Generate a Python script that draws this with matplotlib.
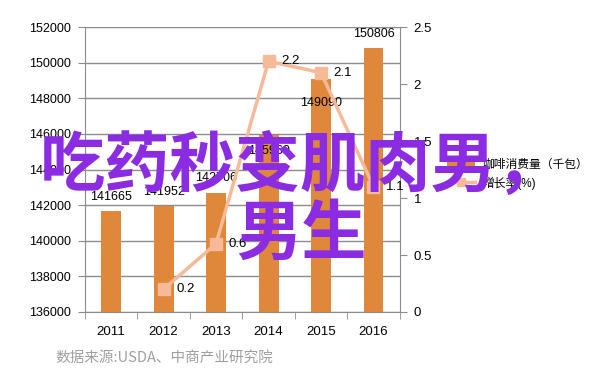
import numpy as np
import matplotlib
matplotlib.use('Agg')
import matplotlib.pyplot as plt
from matplotlib.lines import Line2D
from matplotlib.patches import Patch

plt.rcParams['font.family'] = ['Liberation Sans', 'Noto Sans CJK SC', 'DejaVu Sans']

# data
years = ['2011', '2012', '2013', '2014', '2015', '2016']
consumption = [141665, 141952, 142706, 145960, 149090, 150806]
cons_labels = ['141665', '141952', '142706', '145960', '149090', '150806']
growth_years = ['2012', '2013', '2014', '2015', '2016']
growth = [0.2, 0.6, 2.2, 2.1, 1.1]

bar_color = '#DF873B'
line_color = '#F6BA98'
grid_color = '#8C8C8C'

fig = plt.figure(figsize=(6.02, 3.84), dpi=100)
ax = fig.add_axes([0.141, 0.1875, 0.523, 0.742])

x = np.arange(len(years))
ax.bar(x, consumption, width=0.38, color=bar_color, zorder=2)
ax.set_ylim(136000, 152000)
ax.set_yticks(np.arange(136000, 152001, 2000))
ax.set_xlim(-0.5, len(years) - 0.5)
ax.set_xticks(x)
ax.set_xticklabels(years)
ax.set_xticks(np.arange(-0.5, len(years), 1), minor=True)
ax.tick_params(axis='x', which='major', length=0, pad=10, labelsize=9.5)
ax.tick_params(axis='x', which='minor', length=5, color=grid_color, direction='out')
ax.tick_params(axis='y', length=5, color=grid_color, pad=5, labelsize=9)
ax.grid(axis='y', color=grid_color, linewidth=1, zorder=0)
ax.set_axisbelow(True)
for s in ['top', 'right']:
    ax.spines[s].set_visible(False)
for s in ['left', 'bottom']:
    ax.spines[s].set_color(grid_color)

# bar value labels (2014/2015 sit inside the bar like the original)
offsets = [6, 6, 6, -16, -22, 6]
for i, v in enumerate(consumption):
    ax.annotate(cons_labels[i], (x[i], v), xytext=(0, offsets[i]),
                textcoords='offset points', ha='center', va='bottom', fontsize=9)

ax2 = ax.twinx()
gx = [years.index(y) for y in growth_years]
ax2.plot(gx, growth, color=line_color, linewidth=2.5, marker='s', markersize=8,
         zorder=3)
ax2.set_ylim(0, 2.5)
ax2.set_yticks(np.arange(0, 2.51, 0.5))
ax2.set_yticklabels(['0', '0.5', '1', '1.5', '2', '2.5'])
ax2.tick_params(axis='y', length=5, color=grid_color, pad=5, labelsize=9.5)
for s in ['top', 'left', 'bottom']:
    ax2.spines[s].set_visible(False)
ax2.spines['right'].set_color(grid_color)
for xi, g in zip(gx, growth):
    ax2.annotate(f'{g}', (xi, g), xytext=(9, 0), textcoords='offset points',
                 ha='left', va='center', fontsize=9.5)

handles = [Patch(facecolor=bar_color, edgecolor='none'),
           Line2D([0], [0], color=line_color, linewidth=2.5, marker='s', markersize=6)]
fig.legend(handles, ['咖啡消费量（千包）', '增长率(%)'], loc='center left',
           bbox_to_anchor=(436 / 602, 1 - 174 / 384), frameon=False,
           fontsize=8.5, handlelength=2.4, handletextpad=0.6, labelspacing=0.5)

fig.text(55 / 602, 1 - 358 / 384, '数据来源:USDA、中商产业研究院', color='#A0A0A0',
         fontsize=10.5, va='center', ha='left', family=['Noto Sans CJK SC'])

# purple overlay title
fig.text(0.5, 1 - 166 / 384, '吃药秒变肌肉男，', color='#8B2BE2', fontsize=47,
         fontweight='black', ha='center', va='center', family=['Noto Sans CJK SC'],
         zorder=10)
fig.text(0.5, 1 - 234 / 384, '男生', color='#8B2BE2', fontsize=47,
         fontweight='black', ha='center', va='center', family=['Noto Sans CJK SC'],
         zorder=10)

fig.savefig('out.png', dpi=100)
